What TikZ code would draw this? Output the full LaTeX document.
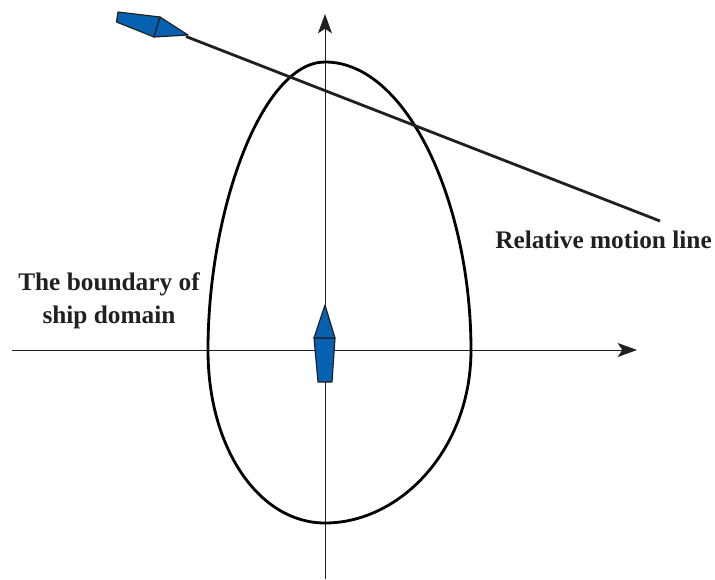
\documentclass[tikz,border=0pt]{standalone}
\usepackage{fontspec}
\setmainfont{Liberation Serif}
\usetikzlibrary{arrows.meta,positioning}
\definecolor{ShipBlue}{RGB}{6,97,176}
\definecolor{LineDark}{RGB}{35,31,32}

\begin{document}
\begin{tikzpicture}[
      x=0.03cm,y=-0.03cm,
      axisLine/.style={line width=0.8pt,color=LineDark,-{Stealth[length=0.58cm,width=0.42cm,inset=0.14cm]}},
      motionLine/.style={line width=2.4pt,color=LineDark},
      domainLine/.style={line width=2.4pt,color=black},
      shipBody/.style={draw=LineDark,fill=ShipBlue,line width=1pt,line join=round},
      labelText/.style={font=\fontsize{21.6}{28}\selectfont\bfseries,align=center,text=LineDark,inner sep=0pt}
    ]
    \useasboundingbox (0,0) rectangle (715,580);

    % Axes
    \coordinate (xStart) at (12,350);
    \coordinate (xEnd) at (637,350);
    \coordinate (yStart) at (325,579);
    \coordinate (yEnd) at (325,14);
    \draw[axisLine] (xStart) -- (xEnd);
    \draw[axisLine] (yStart) -- (yEnd);

    % Ship domain
    \draw[domainLine] (325,62) .. controls (408,62) and (471,205) .. (471,350)
      .. controls (471,450) and (400,523) .. (325,523)
      .. controls (260,523) and (208,450) .. (208,350)
      .. controls (208,210) and (262,62) .. (325,62) -- cycle;

    % Relative motion line
    \coordinate (motionStart) at (186,36.5);
    \coordinate (motionEnd) at (660,221);
    \draw[motionLine] (motionStart) -- (motionEnd);

    % Own ship
    \draw[shipBody] (314,338) -- (335,338) -- (332,382) -- (318,382) -- cycle;
    \draw[shipBody] (325,305) -- (335,338) -- (314,338) -- cycle;

    % Target ship
    \draw[shipBody] (118,12) -- (160,17) -- (154,37) -- (116.5,22) -- cycle;
    \draw[shipBody] (160,17) -- (188,35) -- (154,37) -- cycle;

    % Labels
    \node(motionLabel)[labelText] at (603.5,240) {Relative motion line};
    \node(domainLabel)[labelText] at (109,301) {The boundary of\\ship domain};
  \end{tikzpicture}
\end{document}
